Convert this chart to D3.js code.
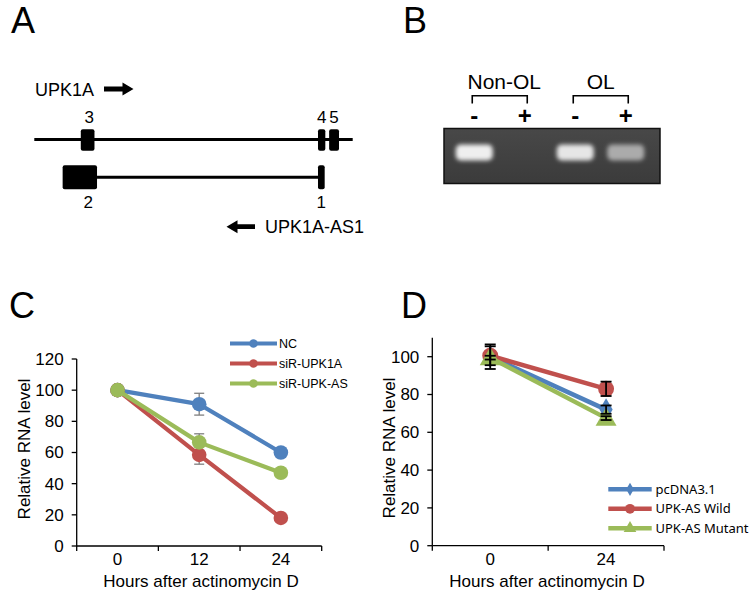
<!DOCTYPE html>
<html>
<head>
<meta charset="utf-8">
<script src="https://cdn.jsdelivr.net/npm/d3@7"></script>
<style>
  html, body { margin: 0; padding: 0; background: #fff; }
  svg { display: block; }
  text { font-family: "Liberation Sans", Arial, sans-serif; fill: #000; }
</style>
</head>
<body>
<svg id="fig" width="753" height="591"></svg>
<script>
// ---------------- DATA ----------------
// Panel A: gene structure (genomic units 0-100)
const geneExons = [
  { label: "3", start: 14.6, end: 18.9 },
  { label: "4", start: 89.1, end: 91.4 },
  { label: "5", start: 92.6, end: 95.7 }
];
const antisenseExons = [
  { label: "2", start: 8.9, end: 19.7 },
  { label: "1", start: 89.1, end: 91.2 }
];
const geneNames = ["UPK1A", "UPK1A-AS1"];

// Panel B: gel
const gelGroups = ["Non-OL", "OL"];
const gelLanes = ["-", "+", "-", "+"];
const gelBandIntensity = [1.0, 0.0, 0.95, 0.62];

// Panel C
const cCategories = ["0", "12", "24"];
const cSeriesNames = ["NC", "siR-UPK1A", "siR-UPK-AS"];
const cNC = [100, 91, 60];
const cUPK1A = [100, 58.5, 18];
const cUPKAS = [100, 66.5, 47];
const cErrNC = [0, 7, 1];
const cErrUPK1A = [0, 6, 1];
const cErrUPKAS = [0, 5.5, 1];
const cYTicks = [0, 20, 40, 60, 80, 100, 120];

// Panel D
const dCategories = ["0", "24"];
const dSeriesNames = ["pcDNA3.1", "UPK-AS Wild", "UPK-AS Mutant"];
const dPc = [100, 72];
const dWild = [100.5, 83];
const dMut = [99.5, 67.5];
const dErrPc = [6.5, 2.2];
const dErrWild = [5, 3.8];
const dErrMut = [1, 1];
const dYTicks = [0, 20, 40, 60, 80, 100];

const xTitle = "Hours after actinomycin D";
const yTitle = "Relative RNA level";

// ---------------- STYLE ----------------
const BLUE = "#4F81BD", RED = "#C0504D", GREEN = "#9BBB59";
const svg = d3.select("#fig");

// ---------------- PANEL LETTERS ----------------
const letters = [
  { t: "A", x: 11, y: 33 }, { t: "B", x: 403, y: 33 },
  { t: "C", x: 9, y: 318 }, { t: "D", x: 401, y: 318 }
];
svg.selectAll("text.letter").data(letters).join("text")
  .attr("class", "letter")
  .attr("x", d => d.x).attr("y", d => d.y)
  .attr("font-size", 36)
  .text(d => d.t);

// ---------------- PANEL A ----------------
(function () {
  const g = svg.append("g");
  const gx = d3.scaleLinear().domain([0, 100]).range([34.3, 352.7]);
  const topY = 139.5, botY = 177.3;

  function arrow(x1, x2, y) {
    const dir = x2 > x1 ? 1 : -1;
    const head = 11, hw = 6.5, sw = 2.4;
    const xh = x2 - dir * head;
    const p = d3.path();
    p.moveTo(x1, y - sw); p.lineTo(xh, y - sw); p.lineTo(xh, y - hw);
    p.lineTo(x2, y); p.lineTo(xh, y + hw); p.lineTo(xh, y + sw);
    p.lineTo(x1, y + sw); p.closePath();
    g.append("path").attr("d", p.toString()).attr("fill", "#000");
  }

  g.append("text").attr("x", 35).attr("y", 95.5).attr("font-size", 18).text(geneNames[0]);
  arrow(104, 133.5, 89);

  g.append("line").attr("x1", gx(0)).attr("x2", gx(100))
    .attr("y1", topY).attr("y2", topY).attr("stroke", "#000").attr("stroke-width", 3);
  g.selectAll("rect.ge").data(geneExons).join("rect")
    .attr("x", d => gx(d.start)).attr("width", d => gx(d.end) - gx(d.start))
    .attr("y", 129.3).attr("height", 21.4).attr("rx", 2).attr("fill", "#000");
  g.selectAll("text.ge").data(geneExons).join("text")
    .attr("x", d => (gx(d.start) + gx(d.end)) / 2 + (d.label === "3" ? 1.5 : 0))
    .attr("y", 123).attr("font-size", 17).attr("text-anchor", "middle")
    .text(d => d.label);

  g.append("line").attr("x1", gx(antisenseExons[0].end)).attr("x2", gx(antisenseExons[1].start))
    .attr("y1", botY).attr("y2", botY).attr("stroke", "#000").attr("stroke-width", 3);
  g.selectAll("rect.ae").data(antisenseExons).join("rect")
    .attr("x", d => gx(d.start)).attr("width", d => gx(d.end) - gx(d.start))
    .attr("y", 165.3).attr("height", 24).attr("rx", 2).attr("fill", "#000");
  g.selectAll("text.ae").data(antisenseExons).join("text")
    .attr("x", d => (gx(d.start) + gx(d.end)) / 2 + (d.label === "2" ? 8.5 : 0))
    .attr("y", 208).attr("font-size", 17).attr("text-anchor", "middle")
    .text(d => d.label);

  arrow(255, 226.5, 226.7);
  g.append("text").attr("x", 265).attr("y", 233).attr("font-size", 18).text(geneNames[1]);
})();

// ---------------- PANEL B ----------------
(function () {
  const g = svg.append("g");
  const defs = svg.append("defs");
  defs.append("filter").attr("id", "blur").attr("x", "-30%").attr("y", "-60%")
    .attr("width", "160%").attr("height", "220%")
    .append("feGaussianBlur").attr("stdDeviation", 2.2);
  const lg = defs.append("linearGradient").attr("id", "gelgrad")
    .attr("x1", 0).attr("x2", 0).attr("y1", 0).attr("y2", 1);
  lg.append("stop").attr("offset", "0%").attr("stop-color", "#484848");
  lg.append("stop").attr("offset", "100%").attr("stop-color", "#3b3b3b");

  const lx = d3.scaleBand().domain(d3.range(gelLanes.length)).range([449, 651]);
  const gelTop = 128.5, gelBot = 183.5;

  g.append("rect").attr("x", 444).attr("y", gelTop).attr("width", 216)
    .attr("height", gelBot - gelTop).attr("fill", "url(#gelgrad)")
    .attr("stroke", "#111").attr("stroke-width", 1.5);

  const color = d3.scaleLinear().domain([0, 1]).range(["#3d3d3d", "#efefef"]);
  g.selectAll("rect.band").data(gelBandIntensity).join("rect")
    .attr("class", "band")
    .attr("x", (d, i) => lx.bandwidth() / 2 + lx(i) - 18.5)
    .attr("width", 37).attr("y", 144.5).attr("height", 16).attr("rx", 5)
    .attr("fill", d => color(d)).attr("opacity", d => d > 0 ? 1 : 0)
    .attr("filter", "url(#blur)");

  g.selectAll("text.lane").data(gelLanes).join("text")
    .attr("x", (d, i) => lx(i) + lx.bandwidth() / 2)
    .attr("y", 124).attr("font-size", 24).attr("font-weight", "bold")
    .attr("text-anchor", "middle").text(d => d === "-" ? "-" : "+");

  const groups = gelGroups.map((name, k) => ({ name, a: 2 * k, b: 2 * k + 1 }));
  groups.forEach(gr => {
    const x1 = lx(gr.a) + lx.bandwidth() / 2 - 2;
    const x2 = lx(gr.b) + lx.bandwidth() / 2 + 2.5;
    g.append("path")
      .attr("d", `M${x1},103.5V95.8H${x2}V103.5`)
      .attr("fill", "none").attr("stroke", "#000").attr("stroke-width", 1.6);
    g.append("text").attr("x", (x1 + x2) / 2 + (gr.name === "Non-OL" ? 4.5 : 0))
      .attr("y", 89).attr("font-size", 21).attr("text-anchor", "middle").text(gr.name);
  });
})();

// ---------------- LINE CHART HELPER ----------------
function axes(g, x, y, yTicks, cats, opts) {
  const [x0, x1] = x.range();
  const [y0] = y.range();
  g.append("line").attr("x1", x0).attr("x2", x0).attr("y1", y0).attr("y2", opts.yTop)
    .attr("stroke", "#000").attr("stroke-width", 1.3);
  g.selectAll("line.yt").data(yTicks).join("line")
    .attr("x1", x0 - 5).attr("x2", x0).attr("y1", d => y(d)).attr("y2", d => y(d))
    .attr("stroke", "#000").attr("stroke-width", 1.3);
  g.selectAll("text.yt").data(yTicks).join("text")
    .attr("x", x0 - 13).attr("y", d => y(d)).attr("dy", "0.35em")
    .attr("font-size", 17).attr("text-anchor", "end").text(d => d);
  g.append("line").attr("x1", x0).attr("x2", x1).attr("y1", y0).attr("y2", y0)
    .attr("stroke", "#000").attr("stroke-width", 1.3);
  const bounds = cats.map(c => x(c)).concat([x1]);
  g.selectAll("line.xt").data(bounds).join("line")
    .attr("x1", d => d).attr("x2", d => d).attr("y1", y0).attr("y2", y0 + 5)
    .attr("stroke", "#000").attr("stroke-width", 1.3);
  g.selectAll("text.xt").data(cats).join("text")
    .attr("x", d => x(d) + x.bandwidth() / 2).attr("y", 565)
    .attr("font-size", 17).attr("text-anchor", "middle").text(d => d);
  g.append("text").attr("x", opts.xTitleX).attr("y", 587)
    .attr("font-size", 17).attr("text-anchor", "middle").text(xTitle);
  g.append("text").attr("transform", `translate(${opts.yTitleX},${opts.yTitleY}) rotate(-90)`)
    .attr("dy", "0.35em").attr("font-size", 17).attr("text-anchor", "middle").text(yTitle);
}

function markerPath(shape, size) {
  const sym = shape === "diamond" ? d3.symbolDiamond : shape === "triangle" ? d3.symbolTriangle : d3.symbolCircle;
  return d3.symbol().type(sym).size(size)();
}

// ---------------- PANEL C ----------------
(function () {
  const g = svg.append("g");
  const x = d3.scaleBand().domain(cCategories).range([76.7, 321.7]);
  const y = d3.scaleLinear().domain([0, 120]).range([546, 359]);
  axes(g, x, y, cYTicks, cCategories, { yTop: 359, xTitleX: 201, yTitleX: 24, yTitleY: 449 });

  const series = [
    { name: cSeriesNames[0], v: cNC, e: cErrNC, c: BLUE },
    { name: cSeriesNames[1], v: cUPK1A, e: cErrUPK1A, c: RED },
    { name: cSeriesNames[2], v: cUPKAS, e: cErrUPKAS, c: GREEN }
  ];
  const cx = c => x(c) + x.bandwidth() / 2;
  const line = d3.line().x((d, i) => cx(cCategories[i])).y(d => y(d));

  series.forEach(s => {
    s.v.forEach((v, i) => {
      if (!s.e[i]) return;
      const X = cx(cCategories[i]);
      const eg = g.append("g").attr("stroke", "#7f7f7f").attr("stroke-width", 1.3);
      eg.append("line").attr("x1", X).attr("x2", X).attr("y1", y(v + s.e[i])).attr("y2", y(v - s.e[i]));
      eg.append("line").attr("x1", X - 5).attr("x2", X + 5).attr("y1", y(v + s.e[i])).attr("y2", y(v + s.e[i]));
      eg.append("line").attr("x1", X - 5).attr("x2", X + 5).attr("y1", y(v - s.e[i])).attr("y2", y(v - s.e[i]));
    });
  });
  series.forEach(s => {
    g.append("path").attr("d", line(s.v)).attr("fill", "none")
      .attr("stroke", s.c).attr("stroke-width", 4.2).attr("stroke-linejoin", "round");
    g.selectAll(null).data(s.v).join("circle")
      .attr("cx", (d, i) => cx(cCategories[i])).attr("cy", d => y(d))
      .attr("r", 7.3).attr("fill", s.c);
  });

  const ly = d3.scalePoint().domain(cSeriesNames).range([343.5, 383.5]);
  series.forEach(s => {
    const Y = ly(s.name);
    g.append("line").attr("x1", 230).attr("x2", 277).attr("y1", Y).attr("y2", Y)
      .attr("stroke", s.c).attr("stroke-width", 4.2);
    g.append("circle").attr("cx", 253.5).attr("cy", Y).attr("r", 4.3).attr("fill", s.c);
    g.append("text").attr("x", 279).attr("y", Y).attr("dy", "0.36em")
      .attr("font-size", 12.5).text(s.name);
  });
})();

// ---------------- PANEL D ----------------
(function () {
  const g = svg.append("g");
  const x = d3.scaleBand().domain(dCategories).range([432.3, 664]);
  const y = d3.scaleLinear().domain([0, 110]).range([545.7, 337.8]);
  axes(g, x, y, dYTicks, dCategories, { yTop: 337.8, xTitleX: 547, yTitleX: 389.5, yTitleY: 448 });

  const series = [
    { name: dSeriesNames[0], v: dPc, e: dErrPc, c: BLUE, shape: "diamond", size: 150, lsize: 50 },
    { name: dSeriesNames[1], v: dWild, e: dErrWild, c: RED, shape: "circle", size: 200, lsize: 75 },
    { name: dSeriesNames[2], v: dMut, e: dErrMut, c: GREEN, shape: "triangle", size: 190, lsize: 70 }
  ];
  const cx = c => x(c) + x.bandwidth() / 2;
  const line = d3.line().x((d, i) => cx(dCategories[i])).y(d => y(d));

  series.forEach(s => {
    g.append("path").attr("d", line(s.v)).attr("fill", "none")
      .attr("stroke", s.c).attr("stroke-width", 4.5).attr("stroke-linejoin", "round");
    g.selectAll(null).data(s.v).join("path")
      .attr("d", markerPath(s.shape, s.size))
      .attr("transform", (d, i) => `translate(${cx(dCategories[i])},${y(d) + (s.shape === "triangle" ? 1.5 : 0)})`)
      .attr("fill", s.c);
  });
  series.forEach(s => {
    s.v.forEach((v, i) => {
      const X = cx(dCategories[i]);
      const eg = g.append("g").attr("stroke", "#000").attr("stroke-width", 1.8);
      eg.append("line").attr("x1", X).attr("x2", X).attr("y1", y(v + s.e[i])).attr("y2", y(v - s.e[i]));
      eg.append("line").attr("x1", X - 5.5).attr("x2", X + 5.5).attr("y1", y(v + s.e[i])).attr("y2", y(v + s.e[i]));
      eg.append("line").attr("x1", X - 5.5).attr("x2", X + 5.5).attr("y1", y(v - s.e[i])).attr("y2", y(v - s.e[i]));
    });
  });

  const ly = d3.scalePoint().domain(dSeriesNames).range([489.3, 528.3]);
  series.forEach(s => {
    const Y = ly(s.name);
    g.append("line").attr("x1", 608.3).attr("x2", 651.7).attr("y1", Y).attr("y2", Y)
      .attr("stroke", s.c).attr("stroke-width", 4.5);
    g.append("path").attr("d", markerPath(s.shape, s.lsize))
      .attr("transform", `translate(630,${Y})`).attr("fill", s.c);
    g.append("text").attr("x", 655.5).attr("y", Y).attr("dy", "0.36em")
      .attr("font-size", 13).style("font-family", "'Noto Sans', sans-serif").text(s.name);
  });
})();
</script>
</body>
</html>
